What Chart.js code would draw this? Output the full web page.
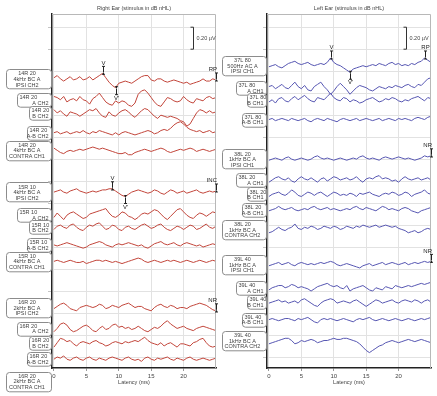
<!DOCTYPE html>
<html>
<head>
<meta charset="utf-8">
<script src="https://cdn.jsdelivr.net/npm/chart.js@4.4.1/dist/chart.umd.min.js"></script>
<style>
  html, body { margin: 0; padding: 0; background: #fff; }
  #wrap { position: relative; width: 437px; height: 396px; overflow: hidden; }
  canvas { position: absolute; top: 0; }
</style>
</head>
<body>
<div id="wrap">
  <canvas id="rightEar" width="218" height="396" style="left:0"></canvas>
  <canvas id="leftEar" width="219" height="396" style="left:218px"></canvas>
</div>
<script>
// ---------------------------------------------------------------------------
// ABR recordings. Samples every 0.5 ms, amplitudes in 0.01 µV.
// ---------------------------------------------------------------------------
const latencyMs = [0,0.5,1,1.5,2,2.5,3,3.5,4,4.5,5,5.5,6,6.5,7,7.5,8,8.5,9,9.5,10,
  10.5,11,11.5,12,12.5,13,13.5,14,14.5,15,15.5,16,16.5,17,17.5,18,18.5,19,19.5,20,
  20.5,21,21.5,22,22.5,23,23.5,24,24.5,25];
const latencyTicks = [0, 5, 10, 15, 20];
const scaleBarUV = 0.2;

// Right ear
const rightEarTests = ['14R 20', '15R 10', '16R 20'];
const rightEarStimuli = ['4kHz BC A', '4kHz BC A', '2kHz BC A'];
const rightEarChannels = ['IPSI CH2', 'A CH2', 'B CH2', 'A-B CH2', 'CONTRA CH1'];

const r14Ipsi = [1,3,0,-2,0,2,-1,0,2,-1, 0,2,-1,1,3,5,1,-3,-6,-8, -4,-3,-2,-3,-4,-2,0,2,3,3, -1,-2,0,0,-2,-3,-2,-1,-2,-3, -4,-3,-5,-4,-3,-2,0,-2,-2,0, -1];
const r14A = [3,2,0,3,-2,0,1,-1,3,0, -1,-4,1,3,6,2,-2,-4,-5,-1, -3,-1,-2,-5,-6,-3,5,8,9,6, 2,-2,-5,-6,-2,2,1,-1,-2,-1, 3,0,-2,-3,1,0,-1,2,3,1, 2];
const r14B = [3,0,2,-1,-3,1,0,-1,-3,-1, 1,3,2,4,0,-3,-4,1,-2,-3, 0,2,3,1,-2,-4,-1,2,4,3, 0,-3,-5,-2,-3,-4,-3,-4,-5,-7, -8,-12,-10,-5,0,3,2,0,2,0, 1];
const r14AB = [0,1,-1,0,1,-1,0,1,0,2, 0,-1,1,0,2,1,0,-1,-2,0, -2,0,1,0,-1,-2,-1,0,1,2, 1,-1,0,2,3,2,4,7,9,10, 8,5,3,2,1,2,0,1,2,0, 1];
const r14Contra = [2,0,-2,-3,-1,0,-1,0,1,0, 1,2,3,2,1,2,1,0,-1,-2, -3,-3,-2,-4,-4,-2,-1,0,1,0, -1,0,1,2,1,-1,-2,-1,0,1, 0,1,2,1,-1,0,1,0,-1,0, 1];

const r15Ipsi = [0,1,2,0,-1,1,2,3,1,0, -1,0,1,0,1,2,2,3,3,1, -1,-3,-4,-2,0,1,2,1,0,-1, 0,2,1,-1,-2,0,2,1,-1,0, 1,-1,0,1,2,0,-1,0,1,0, 1];
const r15A = [-2,2,-1,-4,0,2,3,1,-1,-3, -2,1,2,3,4,5,6,2,-1,-2, 0,3,2,-1,-2,-4,-2,1,2,1, 3,5,4,1,-2,-4,-1,2,5,6, 3,0,-2,-3,0,2,1,-1,1,3, 2];
const r15B = [-2,1,2,0,-1,2,3,0,-2,-3, 0,2,1,3,4,1,-2,-1,2,1, -2,-3,0,1,-1,-2,0,2,3,1, -1,0,2,3,0,-2,-3,-1,1,0, -2,0,2,1,-2,-1,1,3,0,-1, 1];
const r15AB = [0,-1,0,1,2,1,0,-1,-2,-3, -2,0,1,2,3,2,0,-1,-2,0, 1,0,1,2,1,0,-1,0,-2,-3, -1,1,2,3,1,0,1,2,0,-1, 1,2,1,0,-1,0,-2,-1,0,1, 0];
const r15Contra = [0,1,0,-1,0,1,0,-1,-1,0, -2,-1,0,1,1,0,1,0,-1,0, -1,-2,-1,0,1,2,3,2,0,-1, 0,1,0,-1,0,1,0,1,0,-1, 0,1,0,-1,0,1,0,-1,0,1, 0];

const r16Ipsi = [-1,1,3,4,2,-1,-2,-3,0,1, 2,1,0,1,3,2,-1,0,2,1, 0,2,3,4,2,0,1,1,-1,-2, -3,0,2,3,1,0,2,1,-1,0, 0,-1,1,2,3,4,3,2,0,-2, -3];
const r16A = [-3,0,4,5,3,-1,-3,-2,0,2, 3,1,-2,-3,0,2,-1,0,3,4, 1,2,0,1,-1,0,2,0,-2,-3, -1,1,0,2,5,7,4,2,0,1, 2,0,-1,-2,0,1,2,1,0,-1, -2];
const r16B = [-4,0,4,3,1,2,-1,-3,0,1, 0,-1,1,2,0,-1,-3,-2,0,1, 0,-1,1,0,1,2,1,3,5,2, 0,-1,-2,0,-3,-1,0,-2,-4,-1, -1,-2,-3,0,1,3,4,0,-3,-4, -3];
const r16AB = [0,2,1,3,0,-1,1,2,0,-1, 1,2,0,-1,1,0,-1,1,2,1, 0,-1,1,2,0,-1,0,-2,1,2, 0,-1,1,0,1,2,0,-1,1,0, -1,1,2,0,-1,0,1,0,-1,0, 1];

// Left ear
const leftEarTests = ['37L 80', '38L 20', '39L 40'];
const leftEarStimuli = ['500Hz AC A', '1kHz BC A', '1kHz BC A'];
const leftEarChannels = ['IPSI CH1', 'A CH1', 'B CH1', 'A-B CH1', 'CONTRA CH2'];

const l37Ipsi = [-1,0,1,-1,-2,0,2,3,4,2, 1,2,3,1,0,1,2,1,3,7, 3,1,0,-2,-4,-6,-3,-2,-1,0, -1,0,1,0,2,1,0,2,3,1, 2,0,1,0,2,1,3,4,7,5, 3];
const l37A = [1,2,-1,1,3,0,-1,2,5,1, -1,2,-2,-3,1,3,5,1,-2,-6, -3,1,4,1,-2,-6,-3,0,2,1, 0,-2,-3,-1,1,0,-1,1,0,2, 1,0,2,3,1,0,3,2,5,8, 9];
const l37B = [-2,0,-3,1,2,-1,-2,1,3,0, 2,4,1,-1,-2,2,1,0,3,6, 2,0,-1,2,1,-2,0,-1,-3,-2, 0,1,2,0,-2,-1,1,0,2,1, -1,-2,0,-1,1,2,3,1,-1,2, 1];
const l37AB = [0,1,-1,0,1,0,-1,1,0,-1, 0,1,-1,-2,0,1,0,-1,1,0, -1,-2,0,1,0,-1,0,1,-1,0, 1,0,-1,0,1,-1,0,1,0,-1, 1,0,1,0,-1,1,2,1,0,2, 3];

const l38Ipsi = [-1,0,1,0,-1,1,2,0,-1,0, 1,0,-1,0,2,3,1,0,1,0, -1,0,1,0,-1,0,1,0,2,3, 1,0,1,0,-1,1,2,1,0,1, 2,1,0,1,0,-1,0,1,3,2, 3];
const l38A = [-2,0,2,3,1,0,2,-1,-2,1, 3,1,0,2,0,-2,1,2,-1,1, 3,2,0,1,2,0,1,3,0,-2, 1,2,1,3,4,1,2,1,-1,0, -2,1,3,1,0,1,2,0,1,2, 0];
const l38B = [-2,0,1,2,0,-1,1,4,2,-1, -2,0,2,1,-1,1,2,0,-2,0, 2,1,-1,0,-1,1,0,-2,1,0, 1,2,0,-1,-2,0,1,0,2,1, -1,0,2,1,-2,0,1,2,4,1, 0];
const l38AB = [-1,0,1,3,1,0,1,2,0,-1, 0,1,0,2,3,1,0,1,2,0, 1,0,-1,0,1,0,2,3,1,0, 2,1,0,-1,1,3,2,0,1,0, -1,1,2,1,-1,-2,-3,-1,0,1, 2];
const l38Contra = [-3,-2,0,2,0,-1,1,2,5,1, 0,2,1,3,2,0,1,3,2,1, 3,2,0,1,3,2,1,3,2,4, 3,2,3,4,2,3,4,3,2,3, 1,0,-1,-3,-2,-1,-3,-2,0,1, 0];

const l39Ipsi = [-1,0,1,2,0,1,2,0,-1,1, 2,1,0,1,0,1,2,1,2,3, 2,0,-1,0,1,0,-1,-2,-3,-1, 0,1,-1,0,1,2,0,1,2,1, 0,1,2,0,1,2,1,2,3,2, 3];
const l39A = [-2,0,1,2,2,0,1,3,2,0, 1,0,-1,-3,-1,1,2,3,4,2, 1,2,0,-1,2,-3,-1,0,1,2, 0,-2,-3,0,-1,-2,1,0,-1,2, 1,0,1,2,1,2,3,4,3,4, 5];
const l39B = [-1,0,1,2,0,1,-1,0,1,-1, 2,3,1,-1,-3,-4,-1,1,2,3, 2,-1,0,1,0,-1,1,2,0,-2, -4,-2,0,2,1,-1,0,1,2,0, -1,1,2,1,0,2,1,-1,1,2, 0];
const l39AB = [0,1,0,-1,0,1,1,0,-1,1, 0,1,2,0,-2,-3,0,1,0,1, 0,-1,0,1,0,-1,-2,0,1,0, 1,2,0,-1,0,1,0,-1,0,1, 0,-1,0,1,0,-1,0,1,0,1, 2];
const l39Contra = [-3,-2,-1,0,1,2,2,0,-3,-2, 0,-1,0,1,0,-2,-1,0,0,1, 2,1,1,2,2,1,0,-1,-3,-6, -9,-11,-9,-7,-5,-4,-2,-1,0,-1, -2,-1,0,1,0,-1,0,1,0,-1, -2];

// Peak and result markers, placed on the IPSI trace of each test
const rightEarMarkers = [
  { test: 0, at: 7.5, text: 'V' },
  { test: 0, at: 9.5, text: "V'", below: true },
  { test: 0, at: 25, text: 'RP' },
  { test: 1, at: 9, text: 'V' },
  { test: 1, at: 11, text: "V'", below: true },
  { test: 1, at: 25, text: 'INC' },
  { test: 2, at: 25, text: 'NR' }
];
const leftEarMarkers = [
  { test: 0, at: 9.5, text: 'V' },
  { test: 0, at: 12.5, text: "V'", below: true },
  { test: 0, at: 24, text: 'RP' },
  { test: 1, at: 25, text: 'NR' },
  { test: 2, at: 25, text: 'NR' }
];

// ---------------------------------------------------------------------------
// Layout
// ---------------------------------------------------------------------------
const FONT = '"Liberation Sans", Arial, sans-serif';
const TEXT = '#444';
const GRID = '#e2e2e2';

const rightEarPanel = {
  canvas: 'rightEar',
  title: 'Right Ear (stimulus in dB nHL)',
  color: '#c2453a',
  axisWidth: 52, rightPad: 2, barAt: 21.4,
  tests: rightEarTests, stimuli: rightEarStimuli, channels: rightEarChannels,
  waves: [[r14Ipsi, r14A, r14B, r14AB, r14Contra],
          [r15Ipsi, r15A, r15B, r15AB, r15Contra],
          [r16Ipsi, r16A, r16B, r16AB, null]],
  offsets: [[2.53, 2.34, 2.22, 2.04, 1.88],
            [1.50, 1.29, 1.18, 1.02, 0.87],
            [0.45, 0.26, 0.13, -0.02, -0.22]],
  boxWidths: [45, 34, 22, 24, 45],
  markers: rightEarMarkers
};
const leftEarPanel = {
  canvas: 'leftEar',
  title: 'Left Ear (stimulus in dB nHL)',
  color: '#5656b2',
  axisWidth: 49, rightPad: 6, barAt: 21.1,
  tests: leftEarTests, stimuli: leftEarStimuli, channels: leftEarChannels,
  waves: [[l37Ipsi, l37A, l37B, l37AB],
          [l38Ipsi, l38A, l38B, l38AB, l38Contra],
          [l39Ipsi, l39A, l39B, l39AB, l39Contra]],
  offsets: [[2.65, 2.45, 2.34, 2.16],
            [1.80, 1.61, 1.48, 1.34, 1.16],
            [0.84, 0.63, 0.50, 0.34, 0.15]],
  boxWidths: [44, 30, 19, 24, 44],
  markers: leftEarMarkers
};

function roundRectPath(ctx, x, y, w, h, r) {
  ctx.beginPath();
  ctx.moveTo(x + r, y);
  ctx.lineTo(x + w - r, y);
  ctx.arcTo(x + w, y, x + w, y + r, r);
  ctx.lineTo(x + w, y + h - r);
  ctx.arcTo(x + w, y + h, x + w - r, y + h, r);
  ctx.lineTo(x + r, y + h);
  ctx.arcTo(x, y + h, x, y + h - r, r);
  ctx.lineTo(x, y + r);
  ctx.arcTo(x, y, x + r, y, r);
  ctx.closePath();
}

function overlayPlugin(panel) {
  return {
    id: 'abrOverlay',
    afterDatasetsDraw(chart) {
      const { ctx, chartArea: a, scales: { x, y } } = chart;
      ctx.save();
      // light frame on the open sides
      ctx.strokeStyle = '#b8b8b8';
      ctx.lineWidth = 1;
      ctx.beginPath();
      ctx.moveTo(a.left, a.top + 0.5);
      ctx.lineTo(a.right - 0.5, a.top + 0.5);
      ctx.lineTo(a.right - 0.5, a.bottom);
      ctx.stroke();

      // amplitude scale bar
      const bx = Math.round(x.getPixelForValue(panel.barAt)) + 0.5;
      const by1 = y.getPixelForValue(3.0);
      const by2 = y.getPixelForValue(3.0 - scaleBarUV);
      ctx.strokeStyle = '#333';
      ctx.beginPath();
      ctx.moveTo(bx - 3, by1); ctx.lineTo(bx, by1); ctx.lineTo(bx, by2); ctx.lineTo(bx - 3, by2);
      ctx.stroke();
      ctx.fillStyle = TEXT;
      ctx.font = `5.5px ${FONT}`;
      ctx.textAlign = 'left';
      ctx.textBaseline = 'middle';
      ctx.fillText(scaleBarUV.toFixed(2) + ' \u00b5V', bx + 3, (by1 + by2) / 2);

      // markers
      ctx.font = `6px ${FONT}`;
      panel.markers.forEach(m => {
        const wave = panel.waves[m.test][0];
        const v = panel.offsets[m.test][0] + wave[latencyMs.indexOf(m.at)] / 100;
        const px = Math.round(x.getPixelForValue(m.at)) + 0.5;
        const py = y.getPixelForValue(v);
        const dir = m.below ? 1 : -1;
        const tip = py + dir * 1;
        const tail = py + dir * 7;
        ctx.strokeStyle = '#222';
        ctx.beginPath();
        ctx.moveTo(px, tail); ctx.lineTo(px, tip);
        ctx.moveTo(px - 1.5, tail); ctx.lineTo(px + 1.5, tail);
        ctx.stroke();
        ctx.fillStyle = '#222';
        ctx.beginPath();
        ctx.moveTo(px, tip);
        ctx.lineTo(px - 1.6, tip - dir * 2.6);
        ctx.lineTo(px + 1.6, tip - dir * 2.6);
        ctx.closePath();
        ctx.fill();
        const w = ctx.measureText(m.text).width;
        let tx = px - w / 2;
        if (tx + w > a.right + 1) tx = a.right + 1 - w;
        ctx.textAlign = 'left';
        ctx.textBaseline = m.below ? 'top' : 'bottom';
        ctx.fillText(m.text, tx, tail + dir * 0.5);
      });
      ctx.restore();
    },
    afterDraw(chart) {
      const { ctx, chartArea: a, scales: { y } } = chart;
      ctx.save();
      const lh = 5.6;
      const right = a.left - 1.5;
      panel.waves.forEach((group, g) => {
        group.forEach((wave, c) => {
          const full = c === 0 || c === 4;
          const lines = full
            ? [panel.tests[g], panel.stimuli[g], panel.channels[c]]
            : [panel.tests[g], panel.channels[c]];
          const w = panel.boxWidths[c];
          const h = lines.length * lh + 2.5;
          const yc = y.getPixelForValue(panel.offsets[g][c]);
          const left = right - w;
          const top = yc - h / 2;
          roundRectPath(ctx, Math.round(left) + 0.5, Math.round(top) + 0.5, w, h, 3);
          ctx.fillStyle = '#fff';
          ctx.fill();
          ctx.strokeStyle = '#8c8c8c';
          ctx.lineWidth = 1;
          ctx.stroke();
          ctx.fillStyle = TEXT;
          ctx.font = `5.5px ${FONT}`;
          ctx.textBaseline = 'middle';
          lines.forEach((s, i) => {
            const ty = top + 1.8 + lh * (i + 0.5);
            if (full) {
              ctx.textAlign = 'center';
              ctx.fillText(s, left + w / 2 - 1, ty);
            } else if (i === 0) {
              ctx.textAlign = 'left';
              ctx.fillText(s, left + 3, ty);
            } else {
              ctx.textAlign = 'right';
              ctx.fillText(s, right - 2, ty);
            }
          });
        });
      });
      ctx.restore();
    }
  };
}

function buildPanel(panel) {
  const datasets = [];
  panel.waves.forEach((group, g) => {
    group.forEach((wave, c) => {
      if (!wave) return;
      datasets.push({
        label: panel.tests[g] + ' ' + panel.channels[c],
        data: latencyMs.map((t, i) => ({ x: t, y: panel.offsets[g][c] + wave[i] / 100 })),
        borderColor: panel.color,
        borderWidth: 1,
        pointRadius: 0,
        tension: 0,
        fill: false
      });
    });
  });

  new Chart(document.getElementById(panel.canvas), {
    type: 'line',
    data: { datasets },
    options: {
      responsive: false,
      devicePixelRatio: 1,
      animation: false,
      events: [],
      layout: { padding: { left: 0, right: panel.rightPad, top: 0, bottom: 0 } },
      plugins: {
        legend: { display: false },
        tooltip: { enabled: false },
        title: {
          display: true,
          text: panel.title,
          fullSize: false,
          color: TEXT,
          font: { family: FONT, size: 5.5, weight: 'normal' },
          padding: { top: 5, bottom: 2.4 }
        }
      },
      scales: {
        x: {
          type: 'linear',
          min: -0.3,
          max: 25,
          afterBuildTicks: s => { s.ticks = latencyTicks.map(v => ({ value: v })); },
          afterFit: s => { s.height = 28; },
          grid: { color: GRID, tickLength: 3, tickColor: '#999' },
          border: { color: '#222', width: 1.5 },
          ticks: {
            color: TEXT, padding: 1.5, maxRotation: 0, autoSkip: false,
            font: { family: FONT, size: 6 }
          },
          title: {
            display: true, text: 'Latency (ms)', color: TEXT,
            font: { family: FONT, size: 5.5 },
            padding: { top: 0, bottom: 10.5 }
          }
        },
        y: {
          type: 'linear',
          min: -0.1,
          max: 3.12,
          afterBuildTicks: s => {
            const t = [];
            for (let k = 0; k <= 15; k++) t.push({ value: +(k * 0.2).toFixed(1) });
            s.ticks = t;
          },
          afterFit: s => { s.width = panel.axisWidth; },
          grid: { color: GRID, tickLength: 4, tickColor: '#c4c4c4' },
          border: { color: '#222', width: 1.5 },
          ticks: { display: false }
        }
      }
    },
    plugins: [overlayPlugin(panel)]
  });
}

buildPanel(rightEarPanel);
buildPanel(leftEarPanel);
</script>
</body>
</html>
